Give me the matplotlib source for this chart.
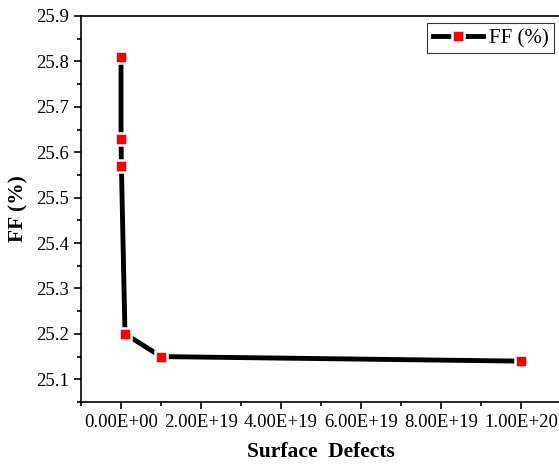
import numpy as np
import matplotlib.pyplot as plt
from matplotlib.ticker import FuncFormatter, MultipleLocator

# FF versus surface defect density
defects = [1e15, 1e16, 1e17, 1e18, 1e19, 1e20]
ff = [25.81, 25.63, 25.57, 25.20, 25.15, 25.14]
x_ticks = [0, 2e19, 4e19, 6e19, 8e19, 1e20]

plt.rcParams['font.family'] = ['Liberation Serif', 'DejaVu Serif']


def sci_fmt(v, pos):
    s = '%.2E' % v
    return s


def main():
    fig = plt.figure(figsize=(5.59, 4.66), dpi=100)
    ax = fig.add_axes([81 / 559, 1 - 402 / 466, 480 / 559, 386 / 466])

    ax.plot(defects, ff, color='black', lw=3.5, marker='s', ms=8.5,
            mfc='red', mec='white', mew=1.8, label='FF (%)')

    ax.set_xlim(-1e19, 1.1e20)
    ax.set_ylim(25.05, 25.9)
    ax.set_xticks(x_ticks)
    ax.xaxis.set_major_formatter(FuncFormatter(sci_fmt))
    ax.xaxis.set_minor_locator(MultipleLocator(1e19))
    ax.yaxis.set_major_locator(MultipleLocator(0.1))
    ax.yaxis.set_minor_locator(MultipleLocator(0.05))
    ax.yaxis.set_major_formatter(FuncFormatter(lambda v, p: '%.1f' % v))

    ax.tick_params(which='major', direction='out', length=5, width=1.2, labelsize=13.5)
    ax.tick_params(which='minor', direction='out', length=3, width=1.2)
    for sp in ax.spines.values():
        sp.set_linewidth(1.2)

    ax.set_xlabel('Surface  Defects', fontsize=15.5, fontweight='bold', labelpad=8)
    ax.set_ylabel('FF (%)', fontsize=15.5, fontweight='bold', labelpad=6)

    leg = ax.legend(loc='upper right', fontsize=15, frameon=True, fancybox=False,
                    edgecolor='black', handlelength=2.4, handletextpad=0.3,
                    borderpad=0.25, borderaxespad=0.35)
    leg.get_frame().set_linewidth(0.8)

    fig.savefig('out.png', dpi=100)


if __name__ == "__main__":
    main()
